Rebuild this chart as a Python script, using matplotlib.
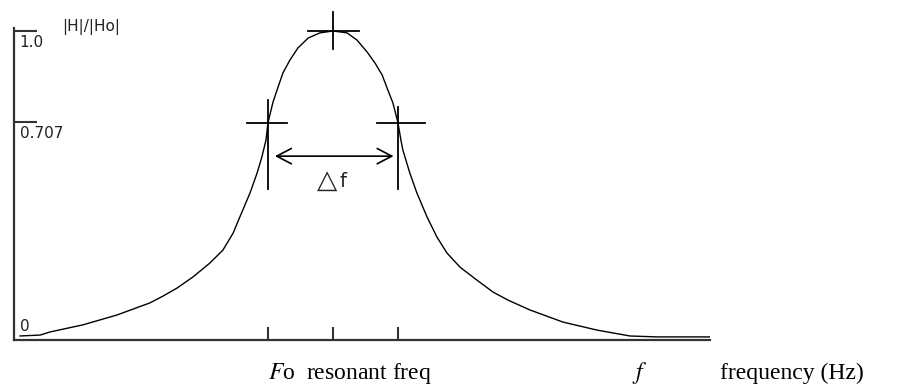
import matplotlib
matplotlib.use("Agg")
import matplotlib.pyplot as plt
import numpy as np

# response curve (frequency in units of Fo)
freq = [0.019, 0.082, 0.113, 0.216, 0.323, 0.426, 0.467, 0.511, 0.561, 0.614,
        0.655, 0.687, 0.708, 0.740, 0.762, 0.777, 0.790, 0.796, 0.812, 0.828,
        0.843, 0.865, 0.890, 0.922, 0.959, 1.000, 1.044, 1.075, 1.107, 1.132,
        1.154, 1.172, 1.188, 1.204, 1.213, 1.219, 1.241, 1.263, 1.295, 1.326,
        1.357, 1.398, 1.451, 1.502, 1.549, 1.618, 1.721, 1.828, 1.931, 2.016,
        2.182]
gain = [0.013, 0.016, 0.026, 0.049, 0.081, 0.120, 0.142, 0.168, 0.204, 0.249,
        0.291, 0.346, 0.398, 0.476, 0.540, 0.592, 0.647, 0.702, 0.770, 0.819,
        0.864, 0.906, 0.945, 0.977, 0.994, 1.000, 0.994, 0.971, 0.932, 0.896,
        0.858, 0.809, 0.767, 0.702, 0.647, 0.615, 0.540, 0.476, 0.398, 0.333,
        0.282, 0.236, 0.194, 0.155, 0.129, 0.097, 0.058, 0.032, 0.013, 0.010,
        0.010]

f_low, f_res, f_high = 0.796, 1.0, 1.204
half_power = 0.707
ytick_vals = [half_power, 1.0]
ytick_labels = ["0.707", "1.0"]

plt.rcParams["mathtext.fontset"] = "stix"

fig = plt.figure(figsize=(9.15, 3.86), dpi=100)
ax = fig.add_axes([14 / 915, 46 / 386, 696 / 915, 312 / 386])
ax.set_xlim(0, 2.182)
ax.set_ylim(0, 1.0097)

ax.plot(freq, gain, color="black", lw=1.0, solid_joinstyle="round")

# axes
for side in ["top", "right"]:
    ax.spines[side].set_visible(False)
for side in ["left", "bottom"]:
    ax.spines[side].set_linewidth(1.6)
    ax.spines[side].set_color("#333333")

ax.set_yticks(ytick_vals)
ax.set_yticklabels([])
ax.tick_params(axis="y", direction="in", length=16.5, width=1.5, color="#333333")
ax.set_xticks([f_low, f_res, f_high])
ax.set_xticklabels([])
ax.tick_params(axis="x", direction="in", length=9.4, width=1.5, color="#333333")

# tick labels inside the axes
for v, lab in zip(ytick_vals + [0], ytick_labels + ["0"]):
    ax.annotate(lab, (0, v), xytext=(4, -3 if v > 0 else 4), textcoords="offset points",
                ha="left", va="top" if v > 0 else "bottom", fontsize=11,
                family="DejaVu Sans", color="#222222")
ax.annotate("|H|/|Ho|", (0, 1.0097), xytext=(35, 1), textcoords="offset points",
            ha="left", va="center", fontsize=11, family="DejaVu Sans",
            color="#222222", annotation_clip=False)

# crosses on the peak and half-power points
cross_kw = dict(color="black", lw=1.3, clip_on=False)
ax.plot([f_res - 0.078, f_res + 0.082], [1.001, 1.001], **cross_kw)
ax.plot([f_res, f_res], [1.061, 0.942], **cross_kw)
ax.plot([f_low - 0.066, f_low + 0.060], [0.702, 0.702], **cross_kw)
ax.plot([f_low, f_low], [0.777, 0.489], **cross_kw)
ax.plot([f_high - 0.066, f_high + 0.084], [0.702, 0.702], **cross_kw)
ax.plot([f_high, f_high], [0.754, 0.489], **cross_kw)

# bandwidth arrow
ax.annotate("", xy=(f_low + 0.022, 0.595), xytext=(f_high - 0.014, 0.595),
            arrowprops=dict(arrowstyle="<->,head_length=1.05,head_width=0.55",
                            color="black", lw=1.2, shrinkA=0, shrinkB=0))
ax.text(0.950, 0.515, "\u25b3", fontsize=19, family="DejaVu Sans",
        ha="left", va="center", color="#222222")
ax.text(1.020, 0.512, "f", fontsize=14, family="DejaVu Sans",
        ha="left", va="center", color="#222222")

# labels under the axis
ypos = 1 - 373 / 386
fig.text(268 / 915, ypos, r"$F$o  resonant freq", fontsize=17,
         family="Liberation Serif", ha="left", va="center")
fig.text(632 / 915, ypos, r"$f$", fontsize=17,
         family="Liberation Serif", ha="left", va="center")
fig.text(720 / 915, ypos, "frequency (Hz)", fontsize=17,
         family="Liberation Serif", ha="left", va="center")

fig.savefig("out.png", dpi=100)
